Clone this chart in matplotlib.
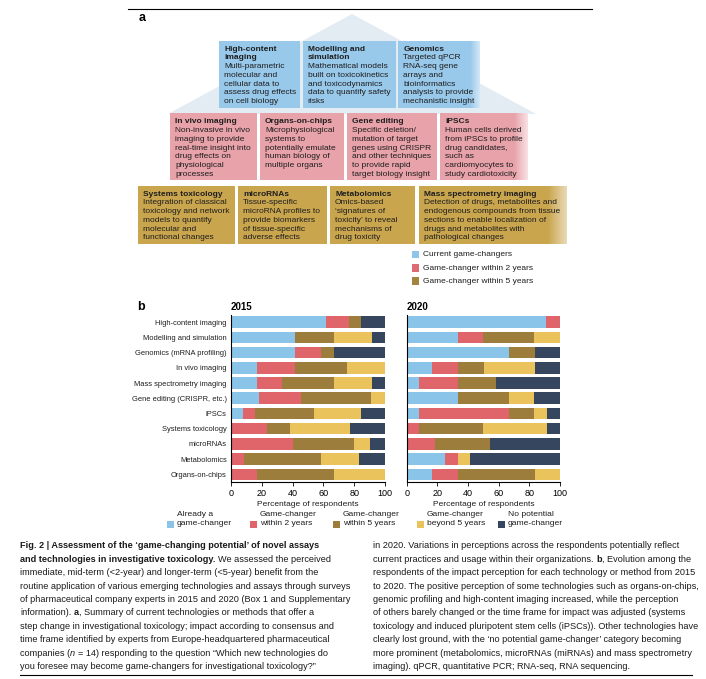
import matplotlib
matplotlib.use("Agg")
import matplotlib.pyplot as plt
from matplotlib.patches import Rectangle, Polygon
from matplotlib.lines import Line2D
import numpy as np

# ============================================================
# DATA
# ============================================================

categories = ["High-content imaging", "Modelling and simulation", "Genomics (mRNA profiling)",
              "In vivo imaging", "Mass spectrometry imaging", "Gene editing (CRISPR, etc.)",
              "iPSCs", "Systems toxicology", "microRNAs", "Metabolomics", "Organs-on-chips"]

# 2015 survey, percentage of respondents
already_2015 = [61.5, 41.7, 41.7, 16.7, 16.7, 18.2, 7.7, 0, 0, 0, 0]
within2_2015 = [15.4, 0, 16.7, 25.0, 16.7, 27.3, 7.7, 23.1, 40.0, 8.3, 16.7]
within5_2015 = [7.7, 25.0, 8.3, 33.3, 33.3, 45.5, 38.5, 15.4, 40.0, 50.0, 50.0]
beyond5_2015 = [0, 25.0, 0, 25.0, 25.0, 9.1, 30.8, 38.5, 10.0, 25.0, 33.3]
never_2015 = [15.4, 8.3, 33.3, 0, 8.3, 0, 15.4, 23.1, 10.0, 16.7, 0]

# 2020 survey
already_2020 = [90.9, 33.3, 66.7, 16.7, 8.3, 33.3, 8.3, 0, 0, 25.0, 16.7]
within2_2020 = [9.1, 16.7, 0, 16.7, 25.0, 0, 58.3, 8.3, 18.2, 8.3, 16.7]
within5_2020 = [0, 33.3, 16.7, 16.7, 25.0, 33.3, 16.7, 41.7, 36.4, 0, 50.0]
beyond5_2020 = [0, 16.7, 0, 33.3, 0, 16.7, 8.3, 41.7, 0, 8.3, 16.7]
never_2020 = [0, 0, 16.7, 16.7, 41.7, 16.7, 8.3, 8.3, 45.5, 58.3, 0]

legend_b = [("Already a", "game-changer"), ("Game-changer", "within 2 years"),
            ("Game-changer", "within 5 years"), ("Game-changer", "beyond 5 years"),
            ("No potential", "game-changer")]
legend_a = ["Current game-changers", "Game-changer within 2 years", "Game-changer within 5 years"]

# panel a boxes: (title lines, body lines)
row1_boxes = [
    (["High-content", "imaging"], ["Multi-parametric", "molecular and", "cellular data to",
                                   "assess drug effects", "on cell biology"]),
    (["Modelling and", "simulation"], ["Mathematical models", "built on toxicokinetics",
                                       "and toxicodynamics", "data to quantify safety", "risks"]),
    (["Genomics"], ["Targeted qPCR", "RNA-seq gene", "arrays and", "bioinformatics",
                    "analysis to provide", "mechanistic insight"]),
]
row2_boxes = [
    (["In vivo imaging"], ["Non-invasive in vivo", "imaging to provide", "real-time insight into",
                           "drug effects on", "physiological", "processes"]),
    (["Organs-on-chips"], ["Microphysiological", "systems to", "potentially emulate",
                           "human biology of", "multiple organs"]),
    (["Gene editing"], ["Specific deletion/", "mutation of target", "genes using CRISPR",
                        "and other techniques", "to provide rapid", "target biology insight"]),
    (["iPSCs"], ["Human cells derived", "from iPSCs to profile", "drug candidates,", "such as",
                 "cardiomyocytes to", "study cardiotoxicity"]),
]
row3_boxes = [
    (["Systems toxicology"], ["Integration of classical", "toxicology and network",
                              "models to quantify", "molecular and", "functional changes"]),
    (["microRNAs"], ["Tissue-specific", "microRNA profiles to", "provide biomarkers",
                     "of tissue-specific", "adverse effects"]),
    (["Metabolomics"], ["Omics-based", "\u2018signatures of", "toxicity\u2019 to reveal",
                        "mechanisms of", "drug toxicity"]),
    (["Mass spectrometry imaging"], ["Detection of drugs, metabolites and",
                                     "endogenous compounds from tissue",
                                     "sections to enable localization of",
                                     "drugs and metabolites with", "pathological changes"]),
]

# caption lines: list of (text, style) parts, style r/b/i
caption_left = [
    [("Fig. 2 | Assessment of the \u2018game-changing potential\u2019 of novel assays", "b")],
    [("and technologies in investigative toxicology.", "b"), (" We assessed the perceived", "r")],
    [("immediate, mid-term (<2-year) and longer-term (<5-year) benefit from the", "r")],
    [("routine application of various emerging technologies and assays through surveys", "r")],
    [("of pharmaceutical company experts in 2015 and 2020 (Box 1 and Supplementary", "r")],
    [("information). ", "r"), ("a", "b"), (", Summary of current technologies or methods that offer a", "r")],
    [("step change in investigational toxicology; impact according to consensus and", "r")],
    [("time frame identified by experts from Europe-headquartered pharmaceutical", "r")],
    [("companies (", "r"), ("n", "i"), (" = 14) responding to the question \u201cWhich new technologies do", "r")],
    [("you foresee may become game-changers for investigational toxicology?\u201d", "r")],
]
caption_right = [
    [("in 2020. Variations in perceptions across the respondents potentially reflect", "r")],
    [("current practices and usage within their organizations. ", "r"), ("b", "b"), (", Evolution among the", "r")],
    [("respondents of the impact perception for each technology or method from 2015", "r")],
    [("to 2020. The positive perception of some technologies such as organs-on-chips,", "r")],
    [("genomic profiling and high-content imaging increased, while the perception", "r")],
    [("of others barely changed or the time frame for impact was adjusted (systems", "r")],
    [("toxicology and induced pluripotent stem cells (iPSCs)). Other technologies have", "r")],
    [("clearly lost ground, with the \u2018no potential game-changer\u2019 category becoming", "r")],
    [("more prominent (metabolomics, microRNAs (miRNAs) and mass spectrometry", "r")],
    [("imaging). qPCR, quantitative PCR; RNA-seq, RNA sequencing.", "r")],
]

bar_colors = ["#8ac4e8", "#e0656b", "#9c7d3c", "#eac35c", "#36465f"]
box_colors = ["#98c8ea", "#e8a2aa", "#c9a54e"]

# ============================================================
# FIGURE SETUP (everything in pixel coordinates of a 706x679 canvas)
# ============================================================

W, H = 706, 679
fig = plt.figure(figsize=(7.06, 6.79), dpi=100)
renderer = fig.canvas.get_renderer()

SANS = ["Liberation Sans", "DejaVu Sans"]
NARROW = ["Liberation Sans Narrow", "Liberation Sans", "DejaVu Sans"]


def fx(x):
    return x / W


def fy(y):
    return 1 - y / H


def rect(x0, y0, x1, y1, color, z=1):
    fig.add_artist(Rectangle((fx(x0), fy(y1)), (x1 - x0) / W, (y1 - y0) / H,
                             transform=fig.transFigure, facecolor=color,
                             edgecolor="none", zorder=z))


def fade_right(x0, y0, x1, y1, strength=0.8):
    # white gradient over the right end of a box
    fa = fig.add_axes([fx(x0), fy(y1), (x1 - x0) / W, (y1 - y0) / H], zorder=1.5)
    fa.axis("off")
    g = np.ones((2, 64, 4))
    g[..., 3] = np.linspace(0, strength, 64)
    fa.imshow(g, aspect="auto", extent=[0, 1, 0, 1], interpolation="bilinear")


def text(x, y, s, **kw):
    return fig.text(fx(x), fy(y), s, **kw)


def width_of(s, size, family, weight="normal", style="normal"):
    t = fig.text(0, 0, s, fontsize=size, family=family, fontweight=weight, fontstyle=style)
    w = t.get_window_extent(renderer).width
    t.remove()
    return w


def fit_size(s, target, family, weight="normal"):
    return 10 * target / width_of(s, 10, family, weight)


STYLES = {"r": ("normal", "normal"), "b": ("bold", "normal"), "i": ("normal", "italic")}


def rich_line(x, y, parts, size, family):
    cur = x
    for s, st in parts:
        wt, sl = STYLES[st]
        sp = width_of("x x", size, family, wt, sl) - width_of("xx", size, family, wt, sl)
        lead = len(s) - len(s.lstrip(" "))
        trail = len(s) - len(s.rstrip(" "))
        core = s.strip(" ")
        cur += lead * sp
        t = text(cur, y, core, fontsize=size, family=family, fontweight=wt,
                 fontstyle=sl, va="baseline", ha="left", color="#1a1a1a")
        cur += t.get_window_extent(renderer).width + trail * sp


# ============================================================
# PANEL A
# ============================================================

fig.add_artist(Line2D([fx(128), fx(592)], [fy(9), fy(9)], color="black", lw=0.8,
                      transform=fig.transFigure))
text(139, 18, "a", fontsize=9, fontweight="bold", family=SANS, va="center")

# pale pyramid behind the boxes
fig.add_artist(Polygon([(fx(352), fy(14)), (fx(168), fy(114)), (fx(536), fy(114))],
                       closed=True, transform=fig.transFigure, facecolor="#e3ebf3",
                       edgecolor="none", zorder=0.5))

row_layout = [
    (row1_boxes, [(219.3, 300), (302.7, 396), (398.3, 480)], (40.7, 108.3)),
    (row2_boxes, [(170, 256.7), (260, 344), (347.3, 437.3), (440, 528.3)], (113.3, 180)),
    (row3_boxes, [(138.3, 235), (238.3, 326.7), (330, 415), (419, 566.7)], (185.7, 244.3)),
]
box_size = fit_size("Mathematical models", 80, SANS)
line_h = 8.75
for ri, (boxes, xs, (y0, y1)) in enumerate(row_layout):
    for (title, body), (x0, x1) in zip(boxes, xs):
        rect(x0, y0, x1, y1, box_colors[ri], z=1)
        yy = y0 + 8.5
        for ln in title:
            text(x0 + 5, yy, ln, fontsize=box_size, fontweight="bold", family=SANS,
                 va="center", color="#1e1e1e")
            yy += line_h
        for ln in body:
            text(x0 + 5, yy, ln, fontsize=box_size, family=SANS, va="center", color="#1e1e1e")
            yy += line_h

# soft right edges of the outer boxes
fade_right(470, 40.7, 480, 108.3, 0.6)
fade_right(514, 113.3, 528.3, 180, 0.75)
fade_right(548, 185.7, 566.7, 244.3, 0.6)

# small legend of panel a
leg_a_colors = ["#8dc6ea", "#df6b72", "#a2863f"]
leg_size = fit_size("Current game-changers", 89, SANS)
for i, (lab, col) in enumerate(zip(legend_a, leg_a_colors)):
    yc = 254.5 + i * 13.3
    rect(411.7, yc - 3.8, 419.3, yc + 3.8, col, z=1)
    text(422.7, yc + 0.5, lab, fontsize=leg_size, family=SANS, va="center", color="#1e1e1e")

# ============================================================
# PANEL B
# ============================================================

text(137, 307.5, "b", fontsize=9, fontweight="bold", family=SANS, va="center")

series_2015 = [already_2015, within2_2015, within5_2015, beyond5_2015, never_2015]
series_2020 = [already_2020, within2_2020, within5_2020, beyond5_2020, never_2020]

ax_top, ax_bot = 314.5, 482
ax1 = fig.add_axes([fx(231), fy(ax_bot), 154 / W, (ax_bot - ax_top) / H])
ax2 = fig.add_axes([fx(406.7), fy(ax_bot), 153.3 / W, (ax_bot - ax_top) / H])

ypos = np.arange(len(categories))
tick_size = 6.5
cat_size = fit_size("Genomics (mRNA profiling)", 91, NARROW)
xlab_size = fit_size("Percentage of respondents", 101, NARROW)

for ax, series, year, xl in [(ax1, series_2015, "2015", 231), (ax2, series_2020, "2020", 406.7)]:
    left = np.zeros(len(categories))
    for vals, col in zip(series, bar_colors):
        vals = np.array(vals)
        ax.barh(ypos, vals, left=left, height=0.76, color=col, edgecolor="none")
        left += vals
    ax.set_xlim(0, 100)
    ax.set_ylim(10.5, -0.5)
    for s in ["top", "right"]:
        ax.spines[s].set_visible(False)
    ax.spines["left"].set_linewidth(0.8)
    ax.spines["bottom"].set_linewidth(0.8)
    ax.set_xticks([0, 20, 40, 60, 80, 100])
    ax.tick_params(axis="x", labelsize=tick_size, length=3, width=0.6, pad=2)
    for lab in ax.get_xticklabels():
        lab.set_family(SANS)
    ax.set_facecolor("none")
    text(xl, 307.5, year, fontsize=7, fontweight="bold", family=SANS, va="center")
    text(xl + 77, 504, "Percentage of respondents", fontsize=xlab_size, family=NARROW,
         ha="center", va="center", color="#1e1e1e")

ax1.set_yticks(ypos)
ax1.set_yticklabels(categories, fontsize=cat_size, family=NARROW, color="#1e1e1e")
ax1.tick_params(axis="y", length=0, pad=3)
ax2.set_yticks([])

# bottom legend
leg_b_size = fit_size("game-changer", 55, SANS)
for i, ((l1, l2), col) in enumerate(zip(legend_b, bar_colors)):
    sx = [167, 250, 333, 417, 498][i]
    rect(sx, 520.5, sx + 7, 527.5, col, z=1)
    text(sx + 10, 515, l1, fontsize=leg_b_size, family=SANS, va="center", color="#1e1e1e")
    text(sx + 10, 523.5, l2, fontsize=leg_b_size, family=SANS, va="center", color="#1e1e1e")

# ============================================================
# CAPTION
# ============================================================

cap_size = 1.025 * min(
    fit_size("toxicology and induced pluripotent stem cells (iPSCs)). Other technologies have", 314, NARROW),
    fit_size("respondents of the impact perception for each technology or method from 2015", 315, NARROW),
    fit_size("to 2020. The positive perception of some technologies such as organs-on-chips,", 315, NARROW),
)
for i, parts in enumerate(caption_left):
    rich_line(20, 545 + 13.45 * i + 3.2, parts, cap_size, NARROW)
for i, parts in enumerate(caption_right):
    rich_line(373, 545 + 13.45 * i + 3.2, parts, cap_size, NARROW)

fig.add_artist(Line2D([fx(20), fx(692)], [fy(675), fy(675)], color="black", lw=0.8,
                      transform=fig.transFigure))

fig.savefig("out.png", dpi=100)
